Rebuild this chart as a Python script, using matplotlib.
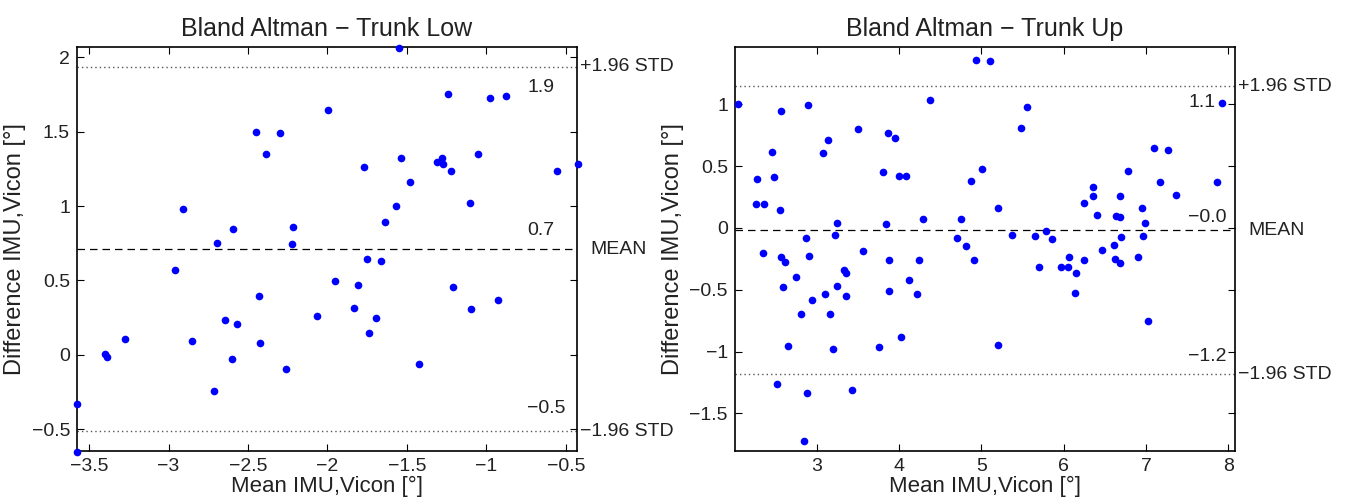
import matplotlib
matplotlib.use("Agg")
import matplotlib.pyplot as plt
from matplotlib.ticker import FuncFormatter

plt.rcParams['font.family'] = ['Liberation Sans', 'DejaVu Sans']

# Trunk Low: mean of IMU/Vicon vs difference IMU-Vicon
low_mean = [-1.998, -2.448, -2.296, -2.387, -2.908, -2.593, -2.216, -2.698,
            -1.551, -1.244, -0.978, -0.879, -1.769, -1.538, -1.309, -1.278,
            -1.271, -1.223, -1.051, -0.555, -0.425, -1.479, -1.567, -1.101,
            -1.637, -2.221, -2.960, -2.433, -2.647, -2.567, -2.065, -3.271,
            -2.855, -2.427, -3.403, -3.388, -2.599, -2.261, -2.712, -3.576,
            -3.574, -1.753, -1.666, -1.950, -1.807, -1.211, -0.927, -1.836,
            -1.099, -1.693, -1.738, -1.422]
low_diff = [1.643, 1.497, 1.494, 1.348, 0.982, 0.843, 0.857, 0.751,
            2.063, 1.756, 1.724, 1.742, 1.262, 1.321, 1.294, 1.323,
            1.280, 1.236, 1.348, 1.236, 1.285, 1.164, 1.003, 1.020,
            0.895, 0.744, 0.572, 0.399, 0.231, 0.207, 0.260, 0.104,
            0.092, 0.081, 0.009, -0.013, -0.031, -0.098, -0.242, -0.331,
            -0.652, 0.644, 0.628, 0.496, 0.471, 0.455, 0.370, 0.314,
            0.310, 0.247, 0.144, -0.060]
low_bias = 0.711
low_loa = 1.225

# Trunk Up
up_mean = [2.040, 2.563, 2.891, 4.380, 3.502, 3.870, 3.951, 3.134, 3.077,
           2.457, 2.278, 2.485, 3.806, 4.004, 4.089, 2.262, 2.356, 2.554,
           3.250, 3.838, 4.292, 4.753, 4.875, 2.874, 3.222, 2.347, 2.563,
           2.906, 3.567, 4.705, 4.810, 2.611, 3.878, 4.243, 2.745, 3.332,
           3.352, 2.594, 3.250, 4.121, 3.097, 2.947, 3.356, 3.875, 4.215,
           2.809, 3.165, 4.024, 2.651, 3.198, 3.757, 2.514, 2.886, 3.429,
           2.846, 4.932, 5.109, 5.559, 5.479, 7.928, 7.095, 7.265, 6.779,
           5.008, 7.171, 7.868, 7.362, 6.354, 6.354, 6.689, 6.245, 5.203,
           6.949, 6.406, 6.633, 6.689, 6.985, 5.369, 5.656, 5.783, 5.855,
           6.968, 6.697, 4.908, 5.701, 5.965, 6.053, 6.065, 6.154, 6.252,
           6.467, 6.612, 6.628, 6.689, 6.900, 6.139, 7.029, 5.203]
up_diff = [1.000, 0.948, 0.992, 1.032, 0.803, 0.768, 0.725, 0.709, 0.606,
           0.617, 0.393, 0.412, 0.450, 0.417, 0.417, 0.196, 0.193, 0.145,
           0.042, 0.029, 0.072, 0.075, 0.377, -0.082, -0.058, -0.200, -0.238,
           -0.228, -0.184, -0.082, -0.144, -0.273, -0.262, -0.260, -0.400, -0.343,
           -0.365, -0.476, -0.470, -0.422, -0.537, -0.581, -0.553, -0.508, -0.537,
           -0.697, -0.699, -0.880, -0.953, -0.980, -0.966, -1.263, -1.336, -1.309,
           -1.722, 1.358, 1.348, 0.978, 0.811, 1.013, 0.649, 0.630, 0.460,
           0.477, 0.369, 0.369, 0.264, 0.328, 0.258, 0.258, 0.201, 0.161,
           0.161, 0.102, 0.099, 0.088, 0.040, -0.060, -0.066, -0.025, -0.092,
           -0.066, -0.076, -0.262, -0.319, -0.319, -0.314, -0.235, -0.365, -0.260,
           -0.176, -0.141, -0.254, -0.286, -0.238, -0.529, -0.756, -0.947]
up_bias = -0.017
up_loa = 1.165

panels = [
    dict(title="Bland Altman \u2212 Trunk Low", x=low_mean, y=low_diff,
         bias=low_bias, loa=low_loa, xlim=(-3.576, -0.43), ylim=(-0.646, 2.069),
         xticks=[-3.5, -3, -2.5, -2, -1.5, -1, -0.5],
         yticks=[-0.5, 0, 0.5, 1, 1.5, 2],
         rect=[0.0570, 0.0962, 0.3701, 0.8096],
         offs=(-21, 19, 23), tx=0.9),
    dict(title="Bland Altman \u2212 Trunk Up", x=up_mean, y=up_diff,
         bias=up_bias, loa=up_loa, xlim=(2.007, 8.08), ylim=(-1.805, 1.464),
         xticks=[3, 4, 5, 6, 7, 8],
         yticks=[-1.5, -1, -0.5, 0, 0.5, 1],
         rect=[0.5440, 0.0962, 0.3701, 0.8096],
         offs=(-16, 13, 18), tx=0.907),
]

def fmt(v, _pos=None):
    return f"{v:g}".replace("-", "\u2212")

fig = plt.figure(figsize=(13.51, 4.99), dpi=100)
for p in panels:
    ax = fig.add_axes(p["rect"])
    ax.plot(p["x"], p["y"], "o", color="#0000ff", markersize=5.5,
            markeredgewidth=0, clip_on=False, zorder=3)
    upper = p["bias"] + p["loa"]
    lower = p["bias"] - p["loa"]
    ax.axhline(upper, color="#555555", linestyle=(0, (1, 2.2)), linewidth=1.0)
    ax.axhline(lower, color="#555555", linestyle=(0, (1, 2.2)), linewidth=1.0)
    ax.axhline(p["bias"], color="black", linestyle=(0, (6, 4)), linewidth=0.9)

    ax.set_xlim(*p["xlim"])
    ax.set_ylim(*p["ylim"])
    ax.set_xticks(p["xticks"])
    ax.set_yticks(p["yticks"])
    ax.xaxis.set_major_formatter(FuncFormatter(fmt))
    ax.yaxis.set_major_formatter(FuncFormatter(fmt))
    ax.tick_params(direction="in", top=True, right=True, length=5,
                   width=0.8, labelsize=14, colors="black", pad=5)
    ax.tick_params(labelcolor="#222222")
    for s in ax.spines.values():
        s.set_linewidth(1.2)

    ax.set_title(p["title"], fontsize=18, pad=8, color="#222222")
    ax.set_xlabel("Mean IMU,Vicon [\u00b0]", fontsize=16, labelpad=1,
                  color="#222222")
    ax.set_ylabel("Difference IMU,Vicon [\u00b0]", fontsize=17, labelpad=4,
                  color="#222222")

    # rounded values next to the limit lines
    tr = ax.get_yaxis_transform()
    for val, off in zip((upper, p["bias"], lower), p["offs"]):
        ax.annotate(f"{val:.1f}".replace("-", "\u2212"), xy=(p["tx"], val),
                    xycoords=tr, xytext=(0, off), textcoords="offset pixels",
                    ha="left", va="center", fontsize=14, color="#222222")
    # line names outside the axes
    ax.annotate("+1.96 STD", xy=(1.0, upper), xycoords=tr, xytext=(3, 0),
                textcoords="offset pixels", ha="left", va="center",
                fontsize=14, annotation_clip=False, color="#222222")
    ax.annotate("MEAN", xy=(1.0, p["bias"]), xycoords=tr, xytext=(13, 0),
                textcoords="offset pixels", ha="left", va="center",
                fontsize=14, annotation_clip=False, color="#222222")
    ax.annotate("\u22121.96 STD", xy=(1.0, lower), xycoords=tr, xytext=(3, 0),
                textcoords="offset pixels", ha="left", va="center",
                fontsize=14, annotation_clip=False, color="#222222")

fig.savefig("out.png", dpi=100)
